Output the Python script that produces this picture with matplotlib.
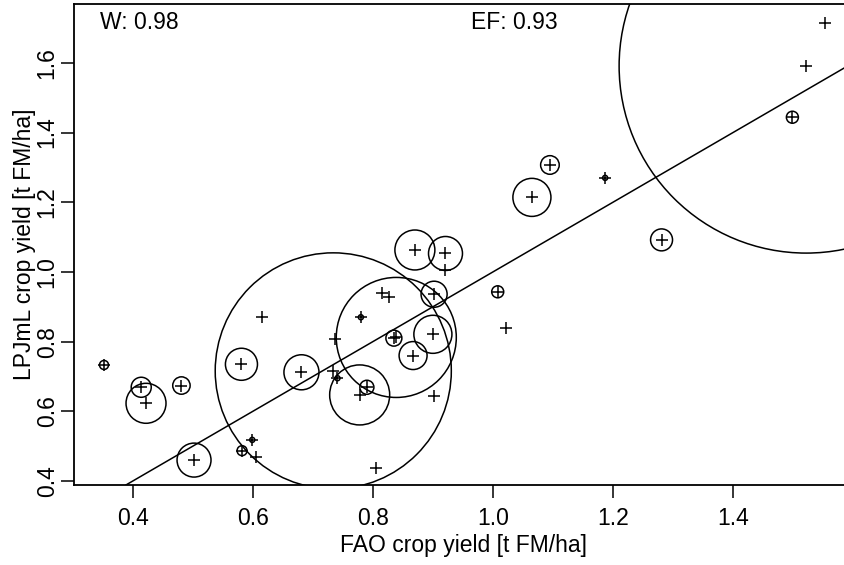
import numpy as np
from matplotlib import pyplot as plt

plt.rcParams['font.family'] = ['Liberation Sans', 'DejaVu Sans']

# Country yields: FAO statistics vs. LPJmL simulation
fao = [0.352, 0.414, 0.422, 0.481, 0.502, 0.581, 0.582, 0.599, 0.605, 0.616,
       0.681, 0.734, 0.737, 0.741, 0.778, 0.780, 0.790, 0.806, 0.816, 0.827,
       0.835, 0.839, 0.867, 0.870, 0.900, 0.902, 0.902, 0.921, 0.921, 1.008,
       1.021, 1.065, 1.095, 1.187, 1.281, 1.499, 1.522, 1.553]
lpjml = [0.733, 0.669, 0.623, 0.674, 0.460, 0.735, 0.487, 0.518, 0.470, 0.872,
         0.712, 0.716, 0.807, 0.695, 0.647, 0.870, 0.669, 0.438, 0.940, 0.929,
         0.810, 0.812, 0.760, 1.063, 0.821, 0.936, 0.644, 1.053, 1.006, 0.943,
         0.838, 1.214, 1.307, 1.270, 1.092, 1.444, 1.591, 1.715]
# circle radius (in x-axis units), weighting of each country
weight = [0.0075, 0.0167, 0.0333, 0.0145, 0.0283, 0.0267, 0.0083, 0.0042, 0.0, 0.0,
          0.0292, 0.1967, 0.0, 0.0042, 0.05, 0.0042, 0.0117, 0.0, 0.0, 0.0,
          0.0133, 0.1, 0.0233, 0.0333, 0.0317, 0.0217, 0.0, 0.0283, 0.0, 0.01,
          0.0, 0.0317, 0.0155, 0.0042, 0.0183, 0.01, 0.3117, 0.0]
stats = ['W: 0.98', 'EF: 0.93']

fig = plt.figure(figsize=(8.45, 5.65), dpi=100)
ax = fig.add_axes([74 / 845, 80 / 565, 779 / 845, 481 / 565])
ax.set_xlim(0.302, 1.600)
ax.set_ylim(0.3885, 1.769)

# pixels per x unit, so circles keep their size in x units
x0, x1 = ax.transData.transform([(0, 0), (1, 0)])[:, 0]
px_per_x = x1 - x0
r_pt = np.array(weight) * px_per_x * 72 / fig.dpi
has_circle = r_pt > 0
ax.scatter(np.array(fao)[has_circle], np.array(lpjml)[has_circle],
           s=(2 * r_pt[has_circle]) ** 2, marker='o', facecolors='none',
           edgecolors='black', linewidths=1.1, zorder=3)
ax.plot(fao, lpjml, '+', color='black', markersize=8.9,
        markeredgewidth=1.1, zorder=4)

# 1:1 line
ax.axline((0, 0), (1, 1), color='black', linewidth=1.1, zorder=2)

ax.text(0.034, 0.9605, stats[0], transform=ax.transAxes, fontsize=16.5,
        va='center', ha='left')
ax.text(0.509, 0.9605, stats[1], transform=ax.transAxes, fontsize=16.5,
        va='center', ha='left')

ax.set_xticks([0.4, 0.6, 0.8, 1.0, 1.2, 1.4])
ax.set_xticklabels(['0.4', '0.6', '0.8', '1.0', '1.2', '1.4'])
ax.set_yticks([0.4, 0.6, 0.8, 1.0, 1.2, 1.4, 1.6])
ax.set_yticklabels(['0.4', '0.6', '0.8', '1.0', '1.2', '1.4', '1.6'],
                   rotation=90, va='center')
ax.tick_params(axis='both', direction='out', length=9.5, width=1.1,
               labelsize=16.5, color='black')
ax.tick_params(axis='x', pad=6)
ax.tick_params(axis='y', pad=1.5)
for side in ['left', 'bottom', 'top', 'right']:
    ax.spines[side].set_linewidth(1.3)

ax.set_xlabel('FAO crop yield [t FM/ha]', fontsize=16.5, labelpad=3)
ax.set_ylabel('LPJmL crop yield [t FM/ha]', fontsize=16.5, labelpad=0)

fig.savefig('out.png', dpi=100)
